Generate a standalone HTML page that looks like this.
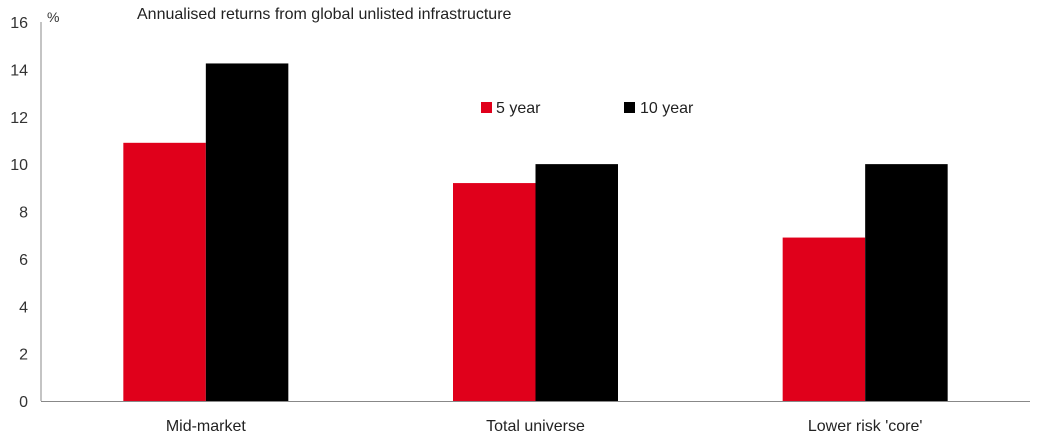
<!DOCTYPE html>
<html><head><meta charset="utf-8">
<style>
html,body{margin:0;padding:0;background:#fff;}
svg{display:block;font-family:"Liberation Sans",Arial,sans-serif;}
</style></head>
<body>
<svg id="chart" width="1038" height="446">
<text x="47" y="22" font-size="14" fill="#333">%</text>
<text x="137" y="19" font-size="16" fill="#222">Annualised returns from global unlisted infrastructure</text>
<g id="legend">
<rect x="481" y="102" width="11" height="11" fill="#e0001b"/>
<text x="496" y="113" font-size="16" fill="#222">5 year</text>
<rect x="624" y="102" width="11" height="11" fill="#000"/>
<text x="640" y="113" font-size="16" fill="#222">10 year</text>
</g>
</svg>
<script>
const categories = ["Mid-market", "Total universe", "Lower risk 'core'"];
const fiveYear = [10.9, 9.2, 6.9];
const tenYear = [14.25, 10.0, 10.0];
const yTicks = [0, 2, 4, 6, 8, 10, 12, 14, 16];

const svg = document.getElementById('chart');
const NS = 'http://www.w3.org/2000/svg';
const left = 41, right = 1030, y0 = 401, yTop = 22, yMax = 16;
const y = v => y0 - (v / yMax) * (y0 - yTop);
const bandW = (right - left) / categories.length;
const xc = i => left + bandW * (i + 0.5);
const barW = 82.5;

function mk(tag, attrs) {
  const e = document.createElementNS(NS, tag);
  for (const k in attrs) e.setAttribute(k, attrs[k]);
  svg.appendChild(e);
  return e;
}

yTicks.forEach(t => {
  const tx = mk('text', {x: 28, y: y(t) + 6, 'font-size': 16, fill: '#333', 'text-anchor': 'end'});
  tx.textContent = t;
  
  
});

categories.forEach((c, i) => {
  const r = mk('rect', {x: xc(i) - barW, y: y(fiveYear[i]), width: barW, height: y0 - y(fiveYear[i]), fill: '#e0001b'});
  
  
  const b = mk('rect', {x: xc(i), y: y(tenYear[i]), width: barW, height: y0 - y(tenYear[i]), fill: '#000'});
  
  
  const lb = mk('text', {x: xc(i), y: 431, 'font-size': 16, fill: '#222', 'text-anchor': 'middle'});
  lb.textContent = c;
  
  
});

const ya = mk('line', {x1: left, y1: yTop, x2: left, y2: y0, stroke: '#888', 'stroke-width': 1});


const xa = mk('line', {x1: left, y1: y0 + 0.5, x2: right, y2: y0 + 0.5, stroke: '#888', 'stroke-width': 1});


</script>
</body></html>
